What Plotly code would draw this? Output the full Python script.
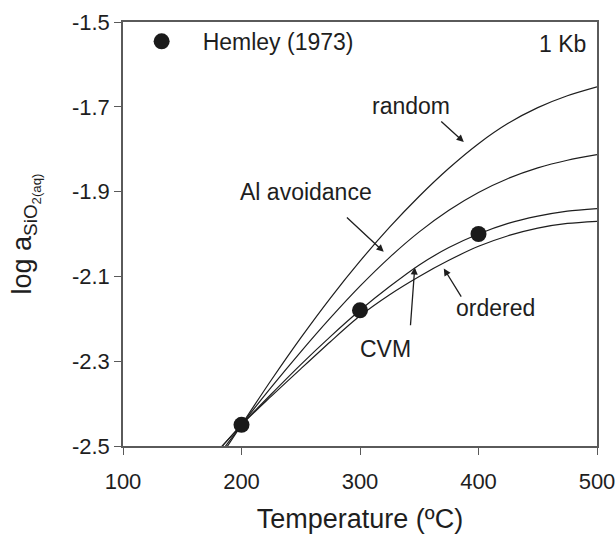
import plotly.graph_objects as go

# Temperature grid (ºC)
temps = [180, 200, 225, 250, 275, 300, 325, 350, 375, 400, 425, 450, 475, 500]

# log a SiO2(aq) model curves
random_vals = [-2.535, -2.45, -2.345, -2.245, -2.151, -2.064, -1.984, -1.911, -1.845, -1.787, -1.739, -1.702, -1.674, -1.653]
al_avoid_vals = [-2.525, -2.45, -2.362, -2.278, -2.198, -2.123, -2.055, -1.995, -1.944, -1.902, -1.869, -1.844, -1.826, -1.813]
cvm_vals = [-2.512, -2.45, -2.378, -2.308, -2.242, -2.18, -2.124, -2.073, -2.032, -2.0, -1.975, -1.958, -1.946, -1.94]
ordered_vals = [-2.512, -2.45, -2.383, -2.318, -2.254, -2.193, -2.143, -2.1, -2.062, -2.029, -2.004, -1.986, -1.975, -1.970]

# Hemley (1973) data
hemley_t = [200, 300, 400]
hemley_a = [-2.45, -2.18, -2.0]

x_ticks = [100, 200, 300, 400, 500]
y_ticks = [-1.5, -1.7, -1.9, -2.1, -2.3, -2.5]
y_tick_text = ["-1.5", "-1.7", "-1.9", "-2.1", "-2.3", "-2.5"]

FONT = "Liberation Sans, Arial, sans-serif"
LINE = "#1e1e1e"
AXIS = "#5a5a5a"

fig = go.Figure()
for vals in [random_vals, al_avoid_vals, cvm_vals, ordered_vals]:
    fig.add_trace(go.Scatter(x=temps, y=vals, mode="lines", line=dict(color=LINE, width=1.2, shape="spline", smoothing=0.8),
                             showlegend=False, hoverinfo="skip"))
fig.add_trace(go.Scatter(x=hemley_t, y=hemley_a, mode="markers", name="Hemley (1973)",
                         marker=dict(color="#1a1a1a", size=16), showlegend=True, cliponaxis=False))

# text labels
labels = [
    ("random", 343.1, -1.6975),
    ("Al avoidance", 254.8, -1.9014),
    ("CVM", 321.1, -2.2704),
    ("ordered", 414.3, -2.1748),
]
for txt, tx, ty in labels:
    fig.add_annotation(x=tx, y=ty, text=txt, showarrow=False, font=dict(family=FONT, size=23, color="#1e1e1e"),
                       xanchor="center", yanchor="middle")

# arrows (tail -> tip)
arrows = [
    (367.3, -1.7317, 387.6, -1.7828),
    (287.7, -1.958, 320.0, -2.042),
    (342.5, -2.2188, 346.2, -2.0788),
    (386.2, -2.1512, 370.7, -2.0812),
]
for axx, ayy, tx, ty in arrows:
    fig.add_annotation(x=tx, y=ty, ax=axx, ay=ayy, axref="x", ayref="y", xref="x", yref="y",
                       text="", showarrow=True, arrowhead=2, arrowsize=1.1, arrowwidth=1.3, arrowcolor="#1e1e1e")

fig.add_annotation(x=0.981, xref="paper", y=-1.5526, yref="y", text="1 Kb", showarrow=False,
                   xanchor="right", yanchor="middle", font=dict(family=FONT, size=23, color="#1e1e1e"))

fig.update_layout(
    width=615, height=534,
    margin=dict(l=123, r=18, t=22, b=88),
    paper_bgcolor="white", plot_bgcolor="white",
    font=dict(family=FONT, color="#1e1e1e"),
    showlegend=True,
    legend=dict(x=-0.005, y=1.005, xanchor="left", yanchor="top", bgcolor="rgba(0,0,0,0)",
                font=dict(family=FONT, size=23, color="#1e1e1e"), itemwidth=72),
    xaxis=dict(range=[100, 500], tickvals=x_ticks, ticks="outside", ticklen=7, tickwidth=1.2, tickcolor=AXIS,
               showline=True, linecolor=AXIS, linewidth=1.5, mirror=True, showgrid=False, zeroline=False,
               ticklabelstandoff=8, ticklabeloverflow="allow", automargin=False,
               tickfont=dict(family=FONT, size=22, color="#1e1e1e"),
               title=dict(text="Temperature (ºC)", font=dict(family=FONT, size=27, color="#1e1e1e"), standoff=17)),
    yaxis=dict(range=[-2.5, -1.5], tickvals=y_ticks, ticktext=y_tick_text, ticks="outside", ticklen=7, tickwidth=1.2,
               tickcolor=AXIS, showline=True, linecolor=AXIS, linewidth=1.5, mirror=True, showgrid=False,
               zeroline=False, automargin=False, tickfont=dict(family=FONT, size=22, color="#1e1e1e"),
               title=dict(text="log a<sub>SiO<sub>2(aq)</sub></sub>", font=dict(family=FONT, size=27, color="#1e1e1e"),
                          standoff=32)),
)

fig.write_html("out.html")
